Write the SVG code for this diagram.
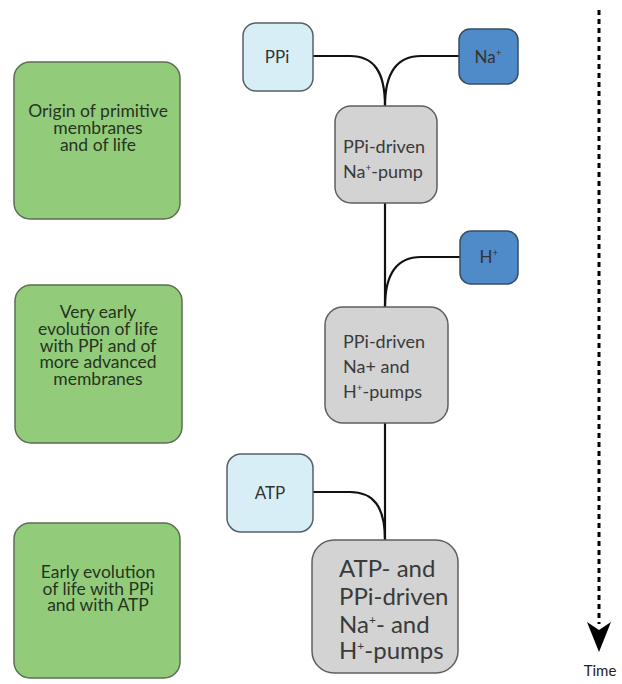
<svg xmlns="http://www.w3.org/2000/svg" width="622" height="684" viewBox="0 0 622 684">
<defs>
<style>
.era rect{fill:#92cc7b;stroke:#5d6d55;stroke-width:1.5}
.era text{font-family:Lato,"Open Sans",sans-serif;font-size:17.5px;fill:#27331f;text-anchor:middle}
.sub rect{fill:#d7eef6;stroke:#566068;stroke-width:1.5}
.ion rect{fill:#4f8ac9;stroke:#3a4d62;stroke-width:1.5}
.pump rect{fill:#d3d3d3;stroke:#5f5f5f;stroke-width:1.5}
.sub text,.ion text{font-family:Lato,"Open Sans",sans-serif;font-size:17px;fill:#333;text-anchor:middle}
.pump text{font-family:Lato,"Open Sans",sans-serif;font-size:18px;fill:#3a3a3a}
.big text{font-size:24px}
.sup{font-size:10px}
.big .sup{font-size:12px}
#connectors path{fill:none;stroke:#111;stroke-width:2.2}
</style>
</defs>
<rect width="622" height="684" fill="#fff"/>

<g id="connectors">
<path d="M313,56 H350 C374,56 385,72 385,106"/>
<path d="M459,56 H421 C397,56 385,72 385,106"/>
<path d="M385,203 V307"/>
<path d="M460,257 H421 C398,257 385,272 385,307"/>
<path d="M385,423 V540"/>
<path d="M313,492 H350 C373,492 385,506 385,540"/>
</g>

<g id="era1" class="era">
<rect x="14" y="62" width="166" height="157" rx="16"/>
<text x="98" y="117">Origin of primitive</text>
<text x="98" y="134">membranes</text>
<text x="98" y="151">and of life</text>
</g>
<g id="era2" class="era">
<rect x="15" y="285" width="167" height="158" rx="16"/>
<text x="98" y="318">Very early</text>
<text x="98" y="335">evolution of life</text>
<text x="98" y="352">with PPi and of</text>
<text x="98" y="368">more advanced</text>
<text x="98" y="385">membranes</text>
</g>
<g id="era3" class="era">
<rect x="14" y="523" width="166" height="155" rx="16"/>
<text x="98" y="578">Early evolution</text>
<text x="98" y="595">of life with PPi</text>
<text x="98" y="611">and with ATP</text>
</g>

<g id="ppi" class="sub">
<rect x="243" y="23" width="70" height="68" rx="13"/>
<text x="277" y="63">PPi</text>
</g>
<g id="na" class="ion">
<rect x="459" y="29" width="59" height="55" rx="11"/>
<text x="488" y="63">Na<tspan class="sup" dy="-7">+</tspan></text>
</g>
<g id="h" class="ion">
<rect x="460" y="231" width="58" height="53" rx="11"/>
<text x="489" y="263">H<tspan class="sup" dy="-7">+</tspan></text>
</g>
<g id="atp" class="sub">
<rect x="227" y="454" width="86" height="78" rx="14"/>
<text x="270" y="499">ATP</text>
</g>

<g id="pump1" class="pump">
<rect x="335" y="106" width="102" height="97" rx="16"/>
<text x="343" y="153">PPi-driven</text>
<text x="343" y="178">Na<tspan class="sup" dy="-7">+</tspan><tspan dy="7">-pump</tspan></text>
</g>
<g id="pump2" class="pump">
<rect x="325" y="307" width="123" height="116" rx="18"/>
<text x="343" y="348">PPi-driven</text>
<text x="343" y="373">Na+ and</text>
<text x="343" y="398">H<tspan class="sup" dy="-7">+</tspan><tspan dy="7">-pumps</tspan></text>
</g>
<g id="pump3" class="pump big">
<rect x="312" y="540" width="146" height="133" rx="22"/>
<text x="339" y="577">ATP- and</text>
<text x="339" y="605">PPi-driven</text>
<text x="339" y="633">Na<tspan class="sup" dy="-9">+</tspan><tspan dy="9">- and</tspan></text>
<text x="339" y="659">H<tspan class="sup" dy="-9">+</tspan><tspan dy="9">-pumps</tspan></text>
</g>

<g id="time">
<path d="M599,10 V624" stroke="#000" stroke-width="3" stroke-dasharray="5,4" fill="none"/>
<path d="M587,622 L599,630 L611,622 L599,652 Z" fill="#000"/>
<text x="600" y="676" font-family="Lato,'Open Sans',sans-serif" font-size="15" text-anchor="middle" fill="#222">Time</text>
</g>
</svg>
